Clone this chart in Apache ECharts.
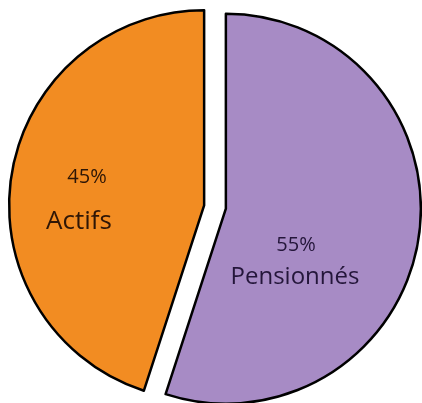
<!DOCTYPE html>
<html><head><meta charset="utf-8">
<script src="https://cdn.jsdelivr.net/npm/echarts@6/dist/echarts.min.js"></script>
<style>html,body{margin:0;padding:0;background:#fff}#c{width:422px;height:403px}</style>
</head><body><div id="c"></div>
<script>
var categories = ['Pensionnés', 'Actifs'];
var values = [55, 45];
var percentLabels = ['55%', '45%'];
var colors = ['#A78BC5', '#F28C22'];
var textColors = ['#24163a', '#2e1606'];

var chart = echarts.init(document.getElementById('c'), null, {renderer: 'canvas'});
var data = categories.map(function (c, i) {
  return {name: c, value: values[i], selected: true, itemStyle: {color: colors[i]}};
});
var labelPos = [
  {pct: [296, 245], name: [295, 277]},
  {pct: [87, 177], name: [79, 222]}
];
var graphics = [];
categories.forEach(function (c, i) {
  graphics.push({type: 'text', x: labelPos[i].pct[0], y: labelPos[i].pct[1], z: 100,
    style: {text: percentLabels[i], fill: textColors[i], font: '20px "Open Sans"', textAlign: 'center', textVerticalAlign: 'middle'}});
  graphics.push({type: 'text', x: labelPos[i].name[0], y: labelPos[i].name[1], z: 100,
    style: {text: c, fill: textColors[i], font: (i === 0 ? '24px' : '26px') + ' "Open Sans"', textAlign: 'center', textVerticalAlign: 'middle'}});
});
chart.setOption({
  animation: false,
  series: [{
    type: 'pie',
    center: [215, 207],
    radius: [0, 195],
    startAngle: 90,
    clockwise: true,
    selectedMode: 'multiple',
    selectedOffset: 11,
    label: {show: false},
    labelLine: {show: false},
    emphasis: {disabled: true},
    itemStyle: {borderColor: '#000', borderWidth: 2.5},
    data: data
  }],
  graphic: graphics
});
</script></body></html>
